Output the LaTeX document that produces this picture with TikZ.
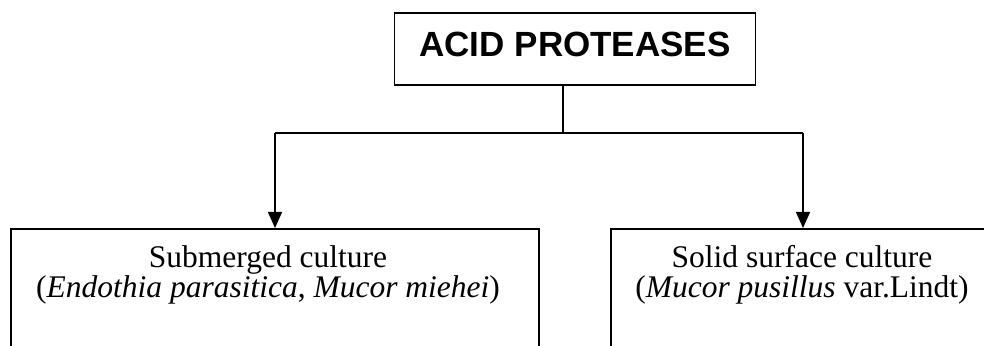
\documentclass[tikz,border=0pt]{standalone}
\usepackage{fontspec}
\setmainfont{Liberation Serif}
\newfontfamily\headfont{Liberation Sans}
\usetikzlibrary{arrows.meta}

\begin{document}
\begin{tikzpicture}[x=1pt,y=1pt,line width=1.5pt,
    box/.style={draw,rectangle,inner sep=0pt,line width=1.9pt},
    arrow/.style={-{Triangle[length=16pt,width=14pt]}}]
  % page
  \useasboundingbox (0,0) rectangle (984,345);
  \clip (0,0) rectangle (984,345);

  % top box
  \node[box,minimum width=361,minimum height=72,text depth=8pt,
        font=\headfont\bfseries\fontsize{35}{40}\selectfont] (acid) at (575,296.3) {ACID PROTEASES};

  % lower boxes (run off the page at the bottom)
  \node[box,anchor=north,minimum width=528,minimum height=160] (sub) at (275,117) {};
  \node[box,anchor=north,minimum width=384,minimum height=160] (solid) at (803,117) {};

  % texts
  \node[anchor=north,inner sep=0pt,align=center,font=\fontsize{31.5}{30}\selectfont] (subtxt) at (268,100)
    {Submerged culture\\(\textit{Endothia parasitica}, \textit{Mucor miehei})};
  \node[anchor=north,inner sep=0pt,align=center,font=\fontsize{31.5}{30}\selectfont] (solidtxt) at (802,100)
    {Solid surface culture\\(\textit{Mucor pusillus} var.Lindt)};

  % connectors
  \coordinate (split) at (563,212);
  \coordinate (lbend) at (275,212);
  \coordinate (rbend) at (803,212);
  \draw (acid.south -| split) -- (split);
  \draw (lbend) -- (rbend);
  \draw[arrow] (lbend) -- (sub.north);
  \draw[arrow] (rbend) -- (solid.north);
\end{tikzpicture}
\end{document}
